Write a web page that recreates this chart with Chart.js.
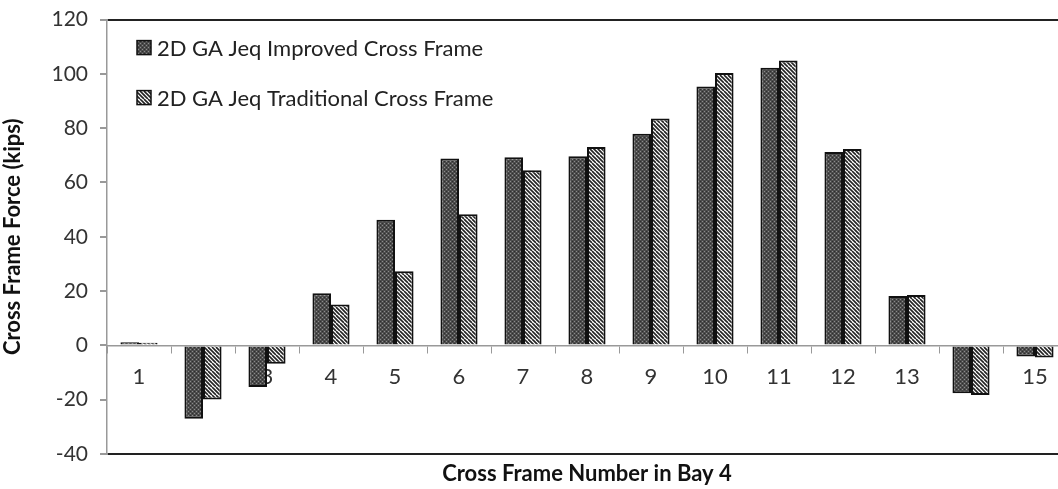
<!DOCTYPE html>
<html>
<head>
<meta charset="utf-8">
<script src="https://cdn.jsdelivr.net/npm/chart.js@4/dist/chart.umd.min.js"></script>
<style>
  html, body { margin: 0; padding: 0; background: #fff; overflow: hidden; }
  #wrap { width: 1058px; height: 489px; overflow: hidden; }
  #chart { display: block; margin-top: -5px; }
</style>
</head>
<body>
<div id="wrap"><canvas id="chart" width="1080" height="494"></canvas></div>
<script>
// cross frame numbers and forces (kips)
const frames = ['1','2','3','4','5','6','7','8','9','10','11','12','13','14','15'];
const improved = [1.2, -27.0, -15.3, 19.2, 46.3, 68.8, 69.3, 69.7, 78.0, 95.4, 102.3, 71.2, 18.2, -17.6, -4.1];
const traditional = [1.0, -19.9, -6.8, 15.1, 27.3, 48.3, 64.5, 73.1, 83.6, 100.3, 104.9, 72.3, 18.6, -18.3, -4.5];
const seriesNames = ['2D GA Jeq Improved Cross Frame', '2D GA Jeq Traditional Cross Frame'];
const yTicks = { min: -40, max: 120, step: 20 };

const FONT = 'Lato, "Open Sans", sans-serif';

// dotted dark fill
function dotPattern() {
    const c = document.createElement('canvas');
    c.width = 4; c.height = 4;
    const g = c.getContext('2d');
    g.fillStyle = '#4c4c4c';
    g.fillRect(0, 0, 4, 4);
    g.fillStyle = '#8c8c8c';
    g.fillRect(0, 0, 1, 1);
    g.fillRect(2, 2, 1, 1);
    g.fillStyle = '#2e2e2e';
    g.fillRect(2, 0, 1, 1);
    g.fillRect(0, 2, 1, 1);
    return g.createPattern(c, 'repeat');
}

// white fill with "\" stripes
function stripePattern() {
    const c = document.createElement('canvas');
    c.width = 8; c.height = 8;
    const g = c.getContext('2d');
    g.fillStyle = '#fff';
    g.fillRect(0, 0, 8, 8);
    g.strokeStyle = '#222';
    g.lineWidth = 1.6;
    for (let k = -8; k <= 8; k += 4) {
        g.beginPath();
        g.moveTo(k, 0);
        g.lineTo(k + 8, 8);
        g.stroke();
    }
    return g.createPattern(c, 'repeat');
}

const fills = [dotPattern(), stripePattern()];

// legend drawn inside the plot, top-left
const insideLegend = {
    id: 'insideLegend',
    afterDraw(chart) {
        const ctx = chart.ctx;
        const x = chart.chartArea.left + 30;
        let y = chart.chartArea.top + 28;
        ctx.save();
        chart.data.datasets.forEach(ds => {
            ctx.fillStyle = ds.backgroundColor;
            ctx.fillRect(x, y - 7, 14, 14);
            ctx.strokeStyle = '#111';
            ctx.lineWidth = 1.5;
            ctx.strokeRect(x, y - 7, 14, 14);
            ctx.fillStyle = '#222';
            ctx.font = '22px ' + FONT;
            ctx.textBaseline = 'middle';
            ctx.fillText(ds.label, x + 20, y + 1);
            y += 50;
        });
        ctx.restore();
    }
};

new Chart(document.getElementById('chart'), {
    type: 'bar',
    data: {
        labels: frames,
        datasets: [
            { label: seriesNames[0], data: improved, backgroundColor: fills[0], borderColor: '#111', borderWidth: 2 },
            { label: seriesNames[1], data: traditional, backgroundColor: fills[1], borderColor: '#111', borderWidth: 2 }
        ]
    },
    options: {
        responsive: false,
        animation: false,
        devicePixelRatio: 1,
        layout: { padding: { left: 0, right: 13, top: 0, bottom: 0 } },
        datasets: { bar: { categoryPercentage: 0.58, barPercentage: 1.0 } },
        plugins: { legend: { display: false }, tooltip: { enabled: false } },
        scales: {
            x: {
                position: { y: 0 },
                grid: { drawOnChartArea: false, color: '#999', tickLength: 7, offset: true },
                border: { color: '#999', width: 1.5 },
                ticks: { color: '#333', font: { family: FONT, size: 22 }, padding: 11 }
            },
            x2: {
                type: 'category',
                position: 'bottom',
                labels: frames,
                grid: { display: false },
                border: { display: false },
                ticks: { display: false },
                title: {
                    display: true,
                    text: 'Cross Frame Number in Bay 4',
                    color: '#111',
                    font: { family: FONT, size: 22, weight: 'bold' },
                    padding: { top: 6, bottom: 2 }
                },
                afterFit(scale) { scale.height = 35; }
            },
            y: {
                min: yTicks.min,
                max: yTicks.max,
                ticks: { stepSize: yTicks.step, color: '#333', font: { family: FONT, size: 21 }, padding: 12 },
                grid: {
                    color: ctx => (ctx.tick.value === yTicks.max || ctx.tick.value === yTicks.min) ? '#222' : 'rgba(0,0,0,0)',
                    tickColor: '#999',
                    tickLength: 7,
                    lineWidth: 2
                },
                border: { color: '#999', width: 1.5 },
                title: {
                    display: true,
                    text: 'Cross Frame Force (kips)',
                    color: '#111',
                    font: { family: FONT, size: 22, weight: 'bold' },
                    padding: { top: 0, bottom: 0 }
                },
                afterFit(scale) { scale.width = 107; }
            }
        }
    },
    plugins: [insideLegend]
});
</script>
</body>
</html>
